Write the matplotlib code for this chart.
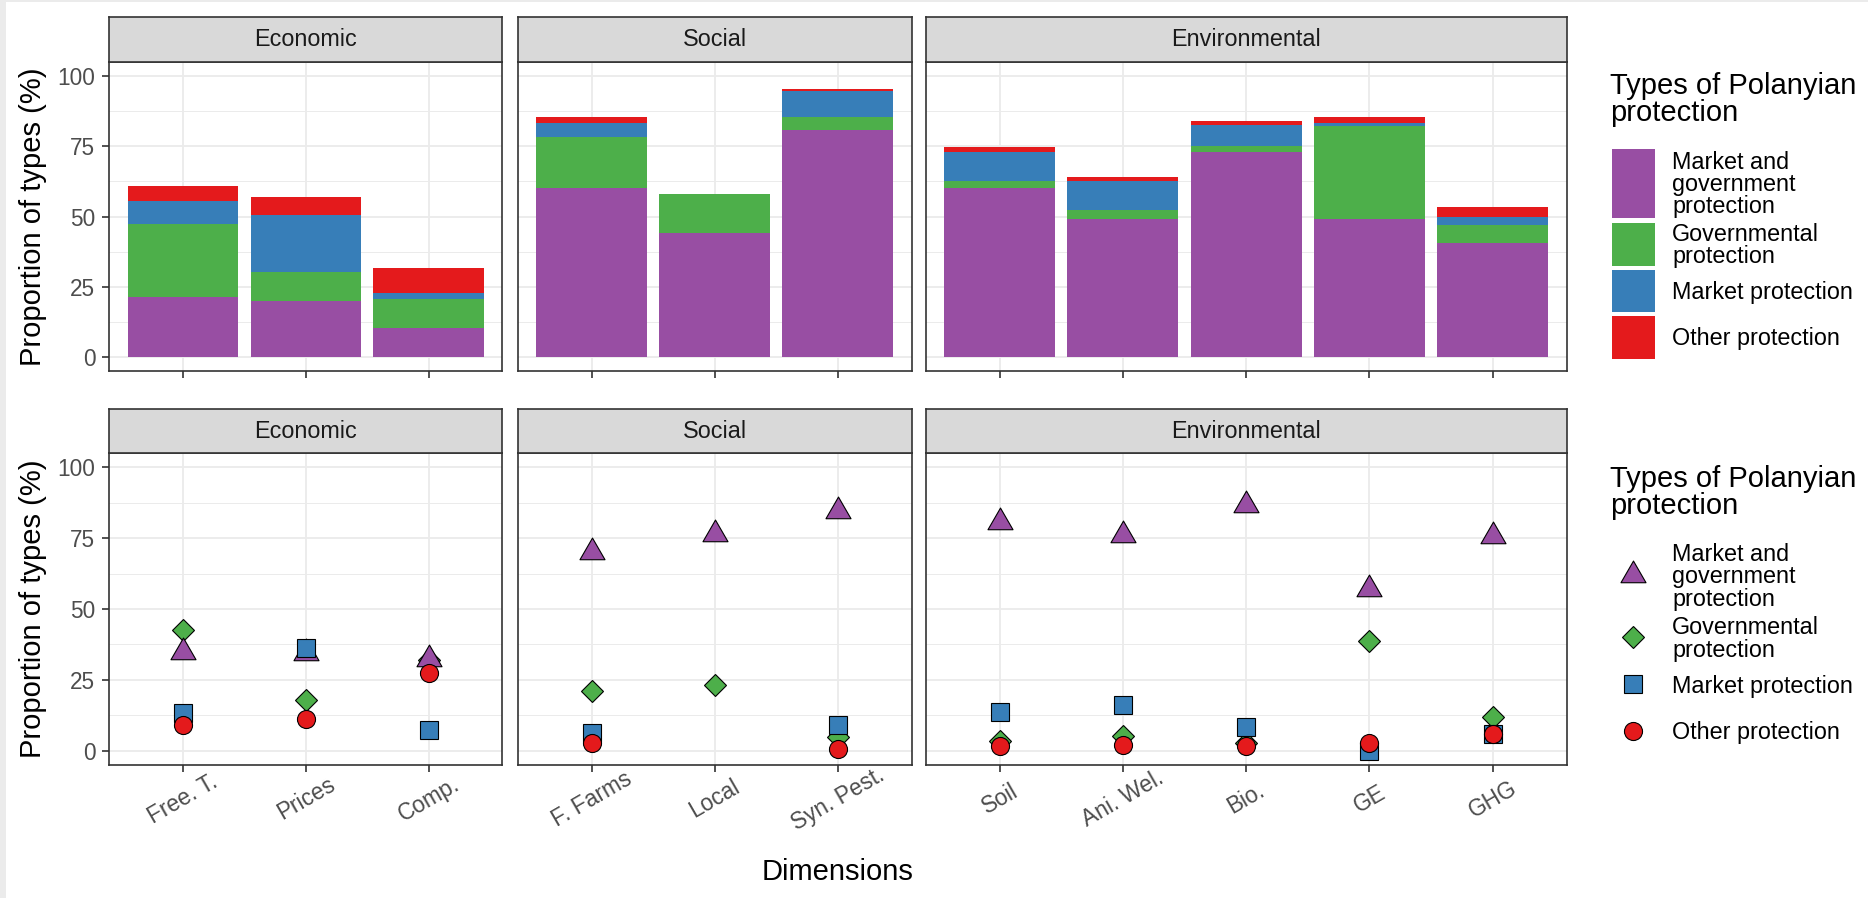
import numpy as np
import matplotlib
matplotlib.use("Agg")
import matplotlib.pyplot as plt
from matplotlib.patches import Rectangle
from matplotlib.lines import Line2D
from matplotlib.path import Path
from matplotlib.ticker import MultipleLocator

plt.rcParams['font.family'] = ['Liberation Sans', 'DejaVu Sans']

# ---- data -------------------------------------------------------------
facets = ["Economic", "Social", "Environmental"]
categories = ["Free. T.", "Prices", "Comp.",
              "F. Farms", "Local", "Syn. Pest.",
              "Soil", "Ani. Wel.", "Bio.", "GE", "GHG"]
dimension = ["Economic"] * 3 + ["Social"] * 3 + ["Environmental"] * 5

types = ["Market and\ngovernment\nprotection", "Governmental\nprotection",
         "Market protection", "Other protection"]
colors = ["#984EA3", "#4DAF4A", "#377EB8", "#E41A1C"]

# stacked shares (%), bottom to top
bar_mkt_gov = [21.3, 19.8, 10.4, 60.3, 44.3, 80.8, 60.3, 49.2, 73.1, 49.2, 40.4]
bar_gov     = [26.2, 10.4, 10.2, 18.1, 13.8, 4.7, 2.3, 3.2, 2.1, 33.1, 6.4]
bar_mkt     = [8.0, 20.4, 2.3, 4.8, 0.0, 9.0, 10.5, 10.2, 7.3, 1.0, 3.2]
bar_other   = [5.4, 6.4, 8.9, 2.3, 0.0, 0.8, 1.5, 1.5, 1.5, 2.2, 3.3]

# point estimates (%)
pt_mkt_gov = [34.8, 34.4, 32.2, 70.2, 76.5, 84.7, 80.6, 76.2, 86.6, 57.2, 75.9]
pt_gov     = [42.7, 18.0, 32.1, 21.2, 23.2, 4.8, 3.3, 5.1, 2.7, 38.7, 11.9]
pt_mkt     = [13.3, 36.1, 7.4, 6.2, np.nan, 9.2, 13.8, 16.1, 8.4, 0.1, 5.9]
pt_other   = [9.2, 11.2, 27.4, 2.7, np.nan, 0.7, 1.8, 2.1, 1.8, 2.9, 6.0]

bars = [bar_mkt_gov, bar_gov, bar_mkt, bar_other]
points = [pt_mkt_gov, pt_gov, pt_mkt, pt_other]

# ---- markers (ggplot-like filled shapes) ------------------------------
tri = Path([(0, 0.577), (-0.5, -0.289), (0.5, -0.289), (0, 0.577)],
           [Path.MOVETO, Path.LINETO, Path.LINETO, Path.CLOSEPOLY])
markers = [tri, "D", "s", "o"]
msizes = [20.8, 11.7, 12.3, 13.0]
draw_order = [1, 0, 2, 3]

# ---- layout (pixels) --------------------------------------------------
W, H = 1868, 898
fig = plt.figure(figsize=(W / 100, H / 100), dpi=100)
fig.patch.set_facecolor("#EBEBEB")
fig.add_artist(Rectangle((6 / W, 0), 1, 1 - 2 / H, transform=fig.transFigure,
                         facecolor="white", edgecolor="none", zorder=0))

col_x = [(109.3, 502.3), (517.7, 911.7), (925.7, 1566.7)]
rows = [((17, 62), (62, 371)), ((409, 453), (453, 765))]


def px_axes(x0, y0, x1, y1):
    return fig.add_axes([x0 / W, 1 - y1 / H, (x1 - x0) / W, (y1 - y0) / H])


dimension = np.array(dimension)
cats = np.array(categories)

for r, ((sy0, sy1), (py0, py1)) in enumerate(rows):
    for c, facet in enumerate(facets):
        x0, x1 = col_x[c]
        idx = np.where(dimension == facet)[0]
        xs = np.arange(1, len(idx) + 1)

        ax = px_axes(x0, py0, x1, py1)
        ax.set_xlim(0.4, len(idx) + 0.6)
        ax.set_ylim(-5, 105)
        ax.set_axisbelow(True)
        ax.yaxis.set_major_locator(MultipleLocator(25))
        ax.yaxis.set_minor_locator(MultipleLocator(12.5))
        ax.grid(which="major", color="#EBEBEB", lw=1.3)
        ax.grid(which="minor", axis="y", color="#EBEBEB", lw=0.7)
        for sp in ax.spines.values():
            sp.set_color("#333333")
            sp.set_linewidth(1.2)
        ax.tick_params(which="minor", length=0)
        ax.tick_params(which="major", color="#333333", width=1.2, length=5,
                       labelsize=16.3, labelcolor="#4D4D4D")
        ax.tick_params(axis="y", pad=5)
        ax.set_xticks(xs)

        if r == 0:
            bottom = np.zeros(len(idx))
            for k in range(4):
                vals = np.array(bars[k])[idx]
                ax.bar(xs, vals, width=0.9, bottom=bottom, color=colors[k],
                       edgecolor="none", zorder=2)
                bottom += vals
            ax.set_xticklabels([])
        else:
            for k in draw_order:
                vals = np.array(points[k])[idx]
                ax.plot(xs, vals, ls="none", marker=markers[k], ms=msizes[k],
                        mfc=colors[k], mec="black", mew=0.8, zorder=3)
            ax.set_xticklabels(cats[idx], rotation=30, ha="center", va="center")
            ax.tick_params(axis="x", pad=19.5)

        if c != 0:
            ax.tick_params(axis="y", which="both", left=False, labelleft=False)

        sax = px_axes(x0, sy0, x1, sy1)
        sax.set_facecolor("#D9D9D9")
        sax.set_xticks([])
        sax.set_yticks([])
        for sp in sax.spines.values():
            sp.set_color("#333333")
            sp.set_linewidth(1.2)
        sax.text(0.5, 0.5, facet, ha="center", va="center", fontsize=16.8,
                 color="#1A1A1A", transform=sax.transAxes)

# axis titles
for (py0, py1) in [rows[0][1], rows[1][1]]:
    fig.text(33 / W, 1 - (py0 + py1) / 2 / H, "Proportion of types (%)",
             rotation=90, ha="center", va="center", fontsize=21)
fig.text(838 / W, 1 - 872 / H, "Dimensions", ha="center", va="center",
         fontsize=21)


# ---- legends ----------------------------------------------------------
def fx(x):
    return x / W


def fy(y):
    return 1 - y / H


legend_title = "Types of Polanyian\nprotection"

# bar legend
fig.text(fx(1610), fy(72), legend_title, ha="left", va="top", fontsize=21,
         linespacing=0.95)
key_boxes = [(149, 218), (223, 266), (270, 312), (316, 359)]
for k, (ky0, ky1) in enumerate(key_boxes):
    fig.add_artist(Rectangle((fx(1612), fy(ky1)), fx(1655) - fx(1612),
                             fy(ky0) - fy(ky1), transform=fig.transFigure,
                             facecolor=colors[k], edgecolor="none"))
    fig.text(fx(1672), fy((ky0 + ky1) / 2 + 1), types[k], ha="left",
             va="center", fontsize=16.8, linespacing=0.95)

# point legend
fig.text(fx(1610), fy(465), legend_title, ha="left", va="top", fontsize=21,
         linespacing=0.95)
key_y = [575, 637, 684, 731]
for k, ky in enumerate(key_y):
    fig.add_artist(Line2D([fx(1633)], [fy(ky)], ls="none", marker=markers[k],
                          ms=msizes[k], mfc=colors[k], mec="black", mew=0.8,
                          transform=fig.transFigure))
    fig.text(fx(1672), fy(ky + 2), types[k], ha="left", va="center",
             fontsize=16.8, linespacing=0.95)

fig.savefig("out.png", dpi=100)
